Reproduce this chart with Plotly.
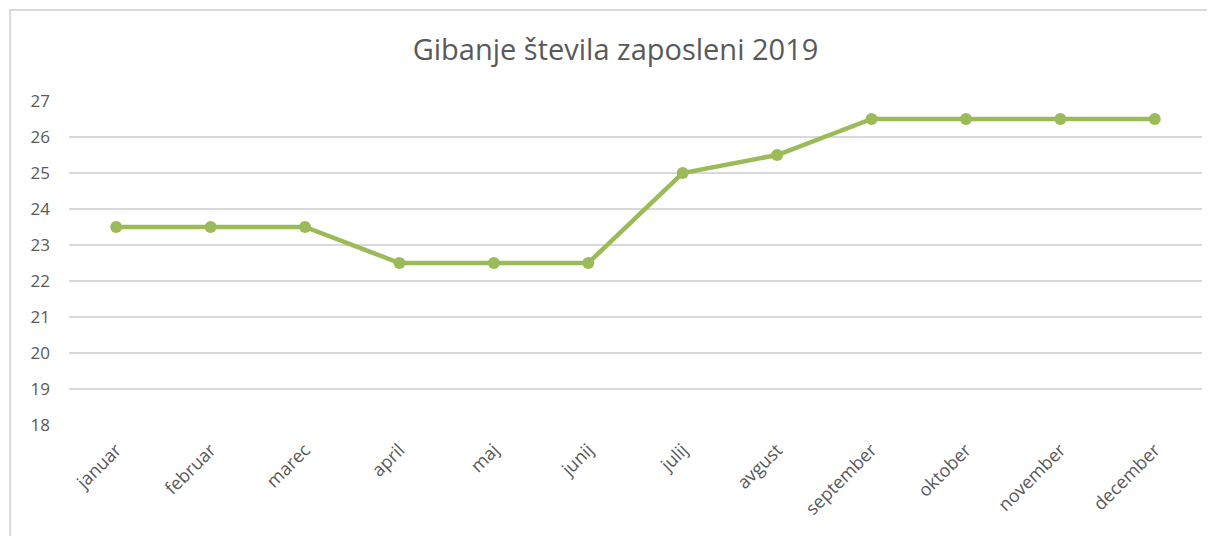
import plotly.graph_objects as go

months = ["januar", "februar", "marec", "april", "maj", "junij",
          "julij", "avgust", "september", "oktober", "november", "december"]
employees = [23.5, 23.5, 23.5, 22.5, 22.5, 22.5, 25, 25.5, 26.5, 26.5, 26.5, 26.5]
y_ticks = [18, 19, 20, 21, 22, 23, 24, 25, 26, 27]
title_text = "Gibanje števila zaposleni 2019"

fig = go.Figure()
fig.add_trace(go.Scatter(
    x=months, y=employees, mode="lines+markers",
    line=dict(color="#9BBB59", width=4.5),
    marker=dict(color="#9BBB59", size=12),
    cliponaxis=False, showlegend=False,
))

fig.update_layout(
    width=1215, height=536,
    margin=dict(l=61, r=21, t=93, b=119),
    paper_bgcolor="white", plot_bgcolor="white",
    title=dict(text=title_text, x=0.5, xanchor="center", y=0.922, yanchor="middle",
               font=dict(family="Open Sans, Calibri, sans-serif", size=29, color="#595959")),
    xaxis=dict(type="category", range=[-0.5, 11.5], showgrid=False, showline=False,
               ticks="", tickangle=-45, ticklabelstandoff=10,
               tickfont=dict(family="Open Sans, Calibri, sans-serif", size=18, color="#595959")),
    yaxis=dict(range=[18, 27], tickvals=y_ticks, showgrid=True, gridcolor="#D9D9D9",
               gridwidth=2, zeroline=False, showline=False, ticks="", ticklabelstandoff=18,
               tickfont=dict(family="Open Sans, Calibri, sans-serif", size=17, color="#595959")),
    shapes=[dict(type="rect", xref="paper", yref="paper",
                 x0=-0.052, x1=1.1, y0=-0.5, y1=1.281,
                 line=dict(color="#D9D9D9", width=2), fillcolor="rgba(0,0,0,0)", layer="below")],
)

fig.write_html("out.html")
